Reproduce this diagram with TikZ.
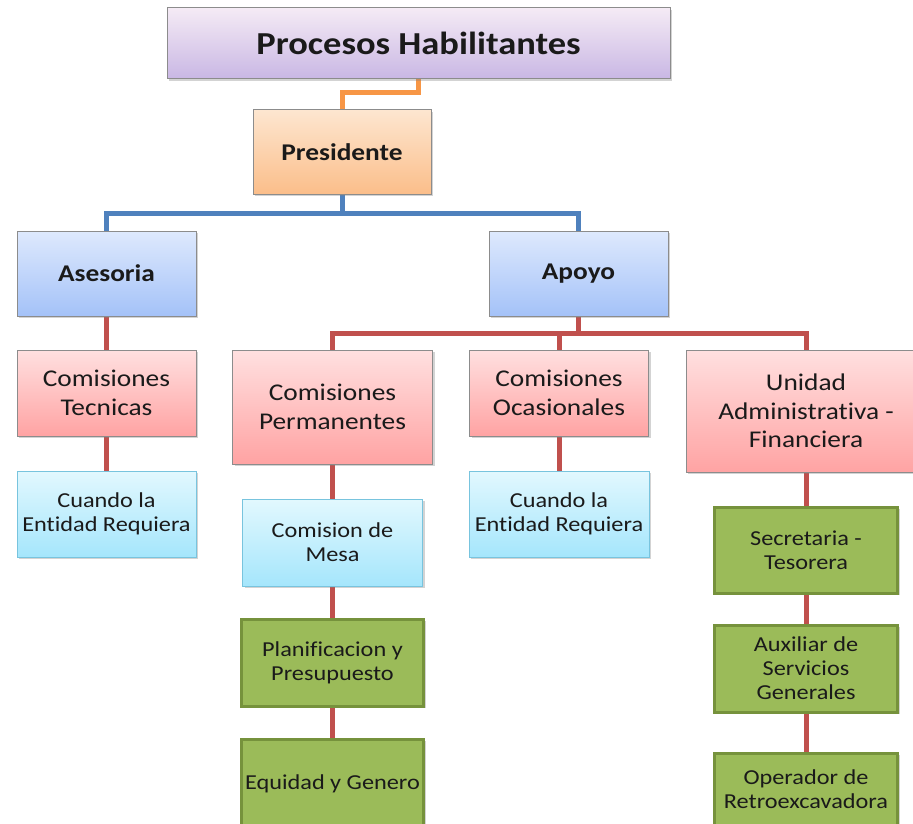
\documentclass[tikz,border=0pt]{standalone}
\usepackage{fontspec}
\setmainfont{Carlito}[FakeStretch=1.14, Ligatures=NoCommon]
\usetikzlibrary{shadows}
\pgfdeclarelayer{background}
\pgfsetlayers{background,main}
\definecolor{lineor}{HTML}{F79646}
\definecolor{lineblue}{HTML}{4F81BD}
\definecolor{linered}{HTML}{C0504D}
\definecolor{txt}{HTML}{1A1A1A}
\tikzset{
  x=1pt, y=-1pt,
  box/.style={draw=black!45, line width=1pt, inner sep=0pt, outer sep=0pt, align=center, text=txt,
    drop shadow={opacity=0.35, shadow xshift=2pt, shadow yshift=-2pt}},
  purplebox/.style={box, top color=violet!8!white, bottom color={rgb,255:red,201;green,183;blue,228}},
  orangebox/.style={box, top color={rgb,255:red,253;green,230;blue,208}, bottom color={rgb,255:red,251;green,190;blue,138}},
  bluebox/.style={box, top color={rgb,255:red,222;green,233;blue,253}, bottom color={rgb,255:red,164;green,194;blue,248}},
  pinkbox/.style={box, top color={rgb,255:red,255;green,224;blue,224}, bottom color={rgb,255:red,255;green,163;blue,163}},
  cyanbox/.style={box, draw={rgb,255:red,120;green,196;blue,222}, top color={rgb,255:red,226;green,248;blue,254}, bottom color={rgb,255:red,165;green,230;blue,252}},
  greenbox/.style={box, draw={rgb,255:red,118;green,146;blue,60}, line width=3pt, fill={rgb,255:red,155;green,187;blue,89}},
  conn/.style={line width=5pt},
  fbig/.style={font=\fontsize{32}{38}\selectfont\bfseries},
  fbold/.style={font=\fontsize{24}{28}\selectfont\bfseries},
  fmid/.style={font=\fontsize{24}{28.5}\selectfont},
  fsmall/.style={font=\fontsize{21.3}{24}\selectfont},
}
\begin{document}
\begin{tikzpicture}
\useasboundingbox (0,0) rectangle (913,824);
% nodes
\node[purplebox, fbig, minimum width=503, minimum height=71] (title) at (418.5,43.5) {Procesos Habilitantes};
\node[orangebox, fbold, minimum width=178, minimum height=84] (pres) at (342,152) {Presidente};
\node[bluebox, fbold, minimum width=179, minimum height=85] (ases) at (106.5,273.5) {Asesoria};
\node[bluebox, fbold, minimum width=179, minimum height=85] (apoyo) at (578.5,273.5) {Apoyo};
\node[pinkbox, fmid, minimum width=179, minimum height=86] (ctec) at (106.5,393) {Comisiones\\Tecnicas};
\node[cyanbox, fsmall, minimum width=179, minimum height=86] (cuando1) at (106.5,514) {Cuando la\\Entidad Requiera};
\node[pinkbox, fmid, minimum width=200, minimum height=114] (cperm) at (332.5,407) {Comisiones\\Permanentes};
\node[pinkbox, fmid, minimum width=179, minimum height=86] (cocas) at (559,393) {Comisiones\\Ocasionales};
\node[pinkbox, fmid, minimum width=240, minimum height=122] (unidad) at (806,411) {Unidad\\Administrativa -\\Financiera};
\node[cyanbox, fsmall, minimum width=180, minimum height=87] (mesa) at (332.5,542.5) {Comision de\\Mesa};
\node[cyanbox, fsmall, minimum width=180, minimum height=86] (cuando2) at (559,514) {Cuando la\\Entidad Requiera};
\node[greenbox, fsmall, minimum width=182, minimum height=87] (plan) at (332.5,662.5) {Planificacion y\\Presupuesto};
\node[greenbox, fsmall, minimum width=182, minimum height=90] (equidad) at (332.5,784) {Equidad y Genero};
\node[greenbox, fsmall, minimum width=183, minimum height=86] (secr) at (806,550) {Secretaria -\\Tesorera};
\node[greenbox, fsmall, minimum width=183, minimum height=87] (aux) at (806,668.5) {Auxiliar de\\Servicios\\Generales};
\node[greenbox, fsmall, minimum width=183, minimum height=72] (oper) at (806,789) {Operador de\\Retroexcavadora};
% connectors
\begin{pgfonlayer}{background}
\draw[conn, lineor] (title.south) -- ++(0,14) -| (pres.north);
\coordinate (bj) at (342,213);
\draw[conn, lineblue] (pres.south) -- (bj);
\draw[conn, lineblue] (ases.north) |- (bj) -| (apoyo.north);
\coordinate (rj) at (578.5,333);
\draw[conn, linered] (apoyo.south) -- (rj);
\draw[conn, linered] (cperm.north) |- (rj) -| (unidad.north);
\draw[conn, linered] (cocas.north) -- (cocas.north |- rj);
\draw[conn, linered] (ases.south) -- (ctec.north);
\draw[conn, linered] (ctec.south) -- (cuando1.north);
\draw[conn, linered] (cperm.south) -- (mesa.north);
\draw[conn, linered] (mesa.south) -- (plan.north);
\draw[conn, linered] (plan.south) -- (equidad.north);
\draw[conn, linered] (cocas.south) -- (cuando2.north);
\draw[conn, linered] (unidad.south) -- (secr.north);
\draw[conn, linered] (secr.south) -- (aux.north);
\draw[conn, linered] (aux.south) -- (oper.north);
\end{pgfonlayer}
\end{tikzpicture}
\end{document}
